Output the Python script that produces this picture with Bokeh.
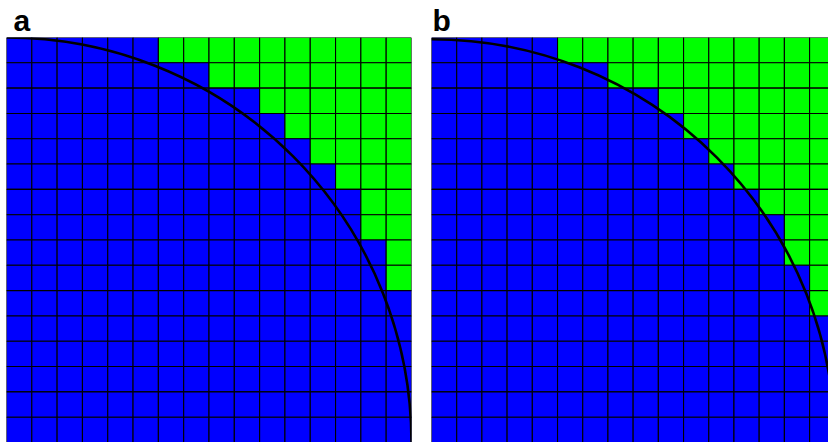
import numpy as np
from bokeh.plotting import figure
from bokeh.layouts import row
from bokeh.models import Range1d
from bokeh.embed import file_html
from bokeh.resources import INLINE

# grid size (cells per side) and quarter-circle radius in cell units
N = 16
RADIUS = 16

# first green column in each row, listed from the top row down (16 = no green)
green_start_a = [6, 8, 10, 11, 12, 13, 14, 14, 15, 15, 16, 16, 16, 16, 16, 16]
green_start_b = [5, 7, 9, 10, 11, 12, 13, 14, 14, 15, 15, 16, 16, 16, 16, 16]

BLUE = "#0000ff"
GREEN = "#00ff00"


def make_panel(letter, green_start, frame_w, left, right, x_end, title_offset):
    p = figure(frame_width=frame_w, frame_height=405, output_backend="svg",
               toolbar_location=None, title=letter,
               x_range=Range1d(0, x_end), y_range=Range1d(0, N),
               min_border_left=left, min_border_right=right,
               min_border_top=0, min_border_bottom=0)
    p.axis.visible = False
    p.xgrid.visible = False
    p.ygrid.visible = False
    p.outline_line_color = None
    p.background_fill_color = "white"
    p.border_fill_color = "white"

    p.title.text_font = "Liberation Sans"
    p.title.text_font_style = "bold"
    p.title.text_font_size = "30px"
    p.title.text_color = "black"
    p.title.align = "left"
    p.title.offset = title_offset
    p.title.standoff = 2

    xs, ys, colors = [], [], []
    for r, start in enumerate(green_start):
        yc = N - 1 - r + 0.5
        for c in range(N):
            xs.append(c + 0.5)
            ys.append(yc)
            colors.append(GREEN if c >= start else BLUE)
    p.rect(x=xs, y=ys, width=1, height=1, fill_color=colors,
           line_color="black", line_width=1.1)

    p.arc(x=0, y=0, radius=RADIUS, start_angle=0, end_angle=np.pi / 2,
          line_color="black", line_width=2.6)
    return p


p_a = make_panel("a", green_start_a, 405, 6, 9, N, 7)
p_b = make_panel("b", green_start_b, 397, 11, 0, 15.75, 1)

layout = row(p_a, p_b, spacing=0)

open("out.html", "w").write(file_html(layout, INLINE))
